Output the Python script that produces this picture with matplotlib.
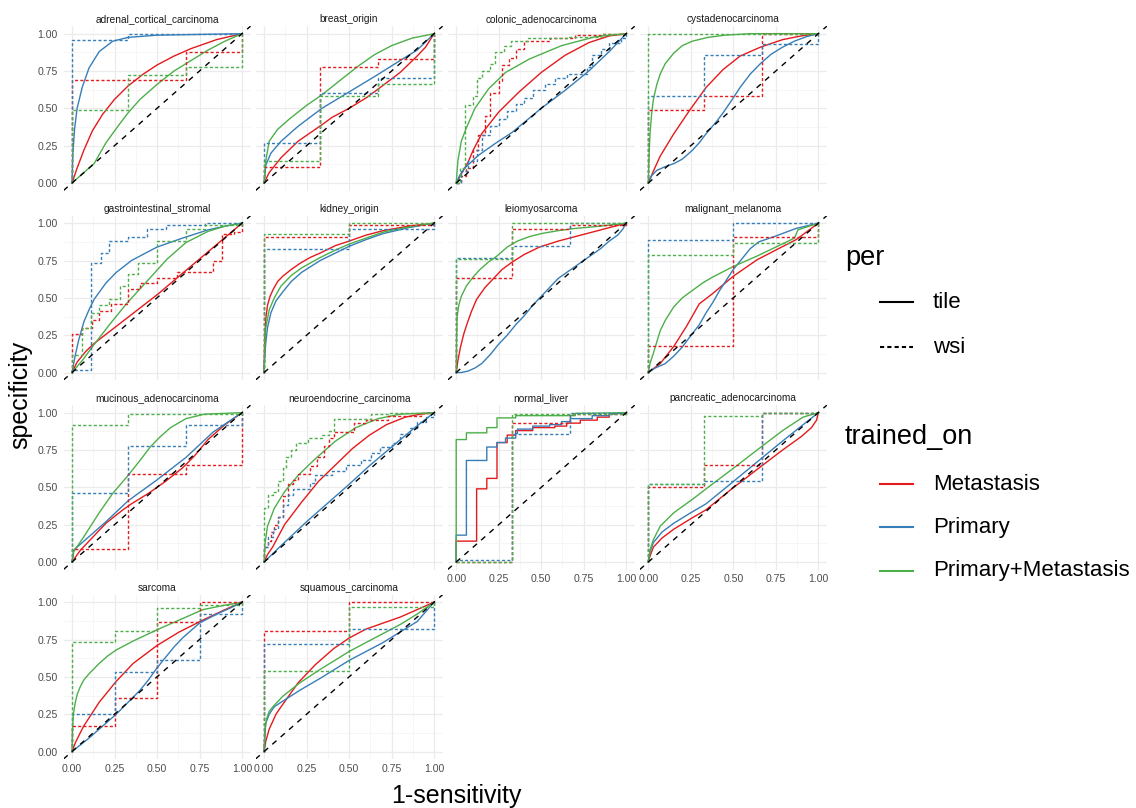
import matplotlib.pyplot as plt
from matplotlib.lines import Line2D

plt.rcParams['font.family'] = ['Liberation Sans', 'DejaVu Sans']

# ---- data -------------------------------------------------------------
panels = ['adrenal_cortical_carcinoma', 'breast_origin', 'colonic_adenocarcinoma',
          'cystadenocarcinoma', 'gastrointestinal_stromal', 'kidney_origin',
          'leiomyosarcoma', 'malignant_melanoma', 'mucinous_adenocarcinoma',
          'neuroendocrine_carcinoma', 'normal_liver', 'pancreatic_adenocarcinoma',
          'sarcoma', 'squamous_carcinoma']
trained_on = ['Metastasis', 'Primary', 'Primary+Metastasis']
per = ['tile', 'wsi']
colors = {'Metastasis': '#E41A1C', 'Primary': '#377EB8', 'Primary+Metastasis': '#4DAF4A'}
ticks = [0, 0.25, 0.5, 0.75, 1]
tick_labels = ['0.00', '0.25', '0.50', '0.75', '1.00']

# (1-sensitivity, specificity) points; keys are (per, trained_on)
adrenal_cortical_carcinoma = {
    ('tile', 'Metastasis'): [(0, 0), (0.03, 0.1), (0.07, 0.22), (0.12, 0.35), (0.18, 0.46), (0.25, 0.56), (0.33, 0.65), (0.42, 0.73), (0.5, 0.79), (0.6, 0.85), (0.7, 0.9), (0.85, 0.96), (1, 1)],
    ('tile', 'Primary'): [(0, 0), (0.005, 0.2), (0.015, 0.36), (0.03, 0.5), (0.06, 0.64), (0.1, 0.77), (0.16, 0.88), (0.24, 0.95), (0.33, 0.975), (0.5, 0.99), (1, 1)],
    ('tile', 'Primary+Metastasis'): [(0, 0), (0.13, 0.13), (0.2, 0.27), (0.27, 0.38), (0.33, 0.47), (0.4, 0.56), (0.5, 0.66), (0.6, 0.75), (0.7, 0.82), (0.8, 0.89), (0.9, 0.95), (1, 1)],
    ('wsi', 'Metastasis'): [(0, 0), (0, 0.69), (0.67, 0.69), (0.67, 0.88), (1, 0.88), (1, 1)],
    ('wsi', 'Primary'): [(0, 0), (0, 0.96), (0.33, 0.96), (0.33, 1), (1, 1)],
    ('wsi', 'Primary+Metastasis'): [(0, 0), (0, 0.49), (0.33, 0.49), (0.33, 0.72), (0.67, 0.72), (0.67, 0.78), (1, 0.78), (1, 1)],
}
breast_origin = {
    ('tile', 'Metastasis'): [(0, 0), (0.03, 0.07), (0.1, 0.17), (0.2, 0.28), (0.34, 0.39), (0.4, 0.44), (0.5, 0.5), (0.6, 0.57), (0.66, 0.62), (0.73, 0.68), (0.8, 0.74), (0.9, 0.85), (0.95, 0.91), (1, 1)],
    ('tile', 'Primary'): [(0, 0), (0.01, 0.12), (0.04, 0.2), (0.1, 0.28), (0.2, 0.38), (0.34, 0.5), (0.5, 0.61), (0.66, 0.72), (0.8, 0.82), (0.9, 0.89), (1, 1)],
    ('tile', 'Primary+Metastasis'): [(0, 0), (0.01, 0.15), (0.03, 0.28), (0.08, 0.36), (0.15, 0.43), (0.25, 0.52), (0.34, 0.59), (0.45, 0.69), (0.55, 0.78), (0.65, 0.86), (0.75, 0.92), (0.87, 0.97), (1, 1)],
    ('wsi', 'Metastasis'): [(0, 0), (0, 0.11), (0.33, 0.11), (0.33, 0.78), (0.67, 0.78), (0.67, 0.83), (1, 0.83), (1, 1)],
    ('wsi', 'Primary'): [(0, 0), (0, 0.27), (0.33, 0.27), (0.33, 0.6), (0.67, 0.6), (0.67, 0.7), (1, 0.7), (1, 1)],
    ('wsi', 'Primary+Metastasis'): [(0, 0), (0, 0.15), (0.33, 0.15), (0.33, 0.58), (0.67, 0.58), (0.67, 0.66), (1, 0.66), (1, 1)],
}
colonic_adenocarcinoma = {
    ('tile', 'Metastasis'): [(0, 0), (0.03, 0.06), (0.07, 0.14), (0.1, 0.22), (0.15, 0.33), (0.25, 0.475), (0.37, 0.61), (0.5, 0.74), (0.64, 0.855), (0.78, 0.94), (0.9, 0.985), (1, 1)],
    ('tile', 'Primary'): [(0, 0), (0.02, 0.05), (0.05, 0.1), (0.13, 0.185), (0.23, 0.265), (0.33, 0.34), (0.5, 0.5), (0.64, 0.62), (0.78, 0.75), (0.9, 0.88), (1, 1)],
    ('tile', 'Primary+Metastasis'): [(0, 0), (0.01, 0.15), (0.03, 0.28), (0.06, 0.37), (0.11, 0.5), (0.19, 0.63), (0.29, 0.74), (0.43, 0.83), (0.62, 0.92), (0.82, 0.98), (1, 1)],
    ('wsi', 'Metastasis'): [(0, 0), (0.03, 0), (0.03, 0.05), (0.06, 0.05), (0.06, 0.1), (0.1, 0.1), (0.1, 0.22), (0.13, 0.22), (0.13, 0.32), (0.17, 0.32), (0.17, 0.45), (0.2, 0.45), (0.2, 0.6), (0.25, 0.6), (0.25, 0.68), (0.27, 0.68), (0.27, 0.79), (0.31, 0.79), (0.31, 0.84), (0.35, 0.84), (0.35, 0.9), (0.4, 0.9), (0.4, 0.95), (0.55, 0.95), (0.55, 0.97), (0.7, 0.97), (0.7, 0.99), (0.85, 0.99), (0.85, 1), (1, 1)],
    ('wsi', 'Primary'): [(0, 0), (0.03, 0), (0.03, 0.08), (0.07, 0.08), (0.07, 0.15), (0.12, 0.15), (0.12, 0.22), (0.15, 0.22), (0.15, 0.32), (0.2, 0.32), (0.2, 0.38), (0.25, 0.38), (0.25, 0.43), (0.3, 0.43), (0.3, 0.48), (0.35, 0.48), (0.35, 0.53), (0.4, 0.53), (0.4, 0.57), (0.45, 0.57), (0.45, 0.62), (0.52, 0.62), (0.52, 0.66), (0.58, 0.66), (0.58, 0.7), (0.65, 0.7), (0.65, 0.73), (0.77, 0.73), (0.77, 0.78), (0.8, 0.78), (0.8, 0.86), (0.85, 0.86), (0.85, 0.9), (0.9, 0.9), (0.9, 0.94), (0.97, 0.94), (0.97, 0.97), (1, 0.97), (1, 1)],
    ('wsi', 'Primary+Metastasis'): [(0, 0), (0.02, 0), (0.02, 0.1), (0.05, 0.1), (0.05, 0.52), (0.1, 0.52), (0.1, 0.58), (0.12, 0.58), (0.12, 0.7), (0.15, 0.7), (0.15, 0.75), (0.2, 0.75), (0.2, 0.8), (0.23, 0.8), (0.23, 0.88), (0.28, 0.88), (0.28, 0.92), (0.32, 0.92), (0.32, 0.95), (0.42, 0.95), (0.42, 0.97), (0.65, 0.97), (0.65, 0.98), (0.85, 0.98), (0.85, 1), (1, 1)],
}
cystadenocarcinoma = {
    ('tile', 'Metastasis'): [(0, 0), (0.03, 0.08), (0.07, 0.18), (0.15, 0.33), (0.245, 0.49), (0.34, 0.64), (0.44, 0.76), (0.54, 0.85), (0.66, 0.91), (0.79, 0.96), (0.9, 0.985), (1, 1)],
    ('tile', 'Primary'): [(0, 0), (0.02, 0.05), (0.05, 0.085), (0.1, 0.11), (0.15, 0.13), (0.2, 0.16), (0.26, 0.22), (0.3, 0.27), (0.34, 0.33), (0.4, 0.41), (0.44, 0.47), (0.5, 0.57), (0.54, 0.64), (0.6, 0.73), (0.66, 0.8), (0.72, 0.86), (0.79, 0.91), (0.86, 0.95), (0.93, 0.98), (1, 1)],
    ('tile', 'Primary+Metastasis'): [(0, 0), (0.005, 0.2), (0.01, 0.33), (0.02, 0.47), (0.03, 0.56), (0.05, 0.66), (0.07, 0.73), (0.1, 0.8), (0.15, 0.87), (0.2, 0.92), (0.26, 0.95), (0.35, 0.975), (0.45, 0.99), (0.6, 1), (1, 1)],
    ('wsi', 'Metastasis'): [(0, 0), (0, 0.49), (0.33, 0.49), (0.33, 0.58), (0.67, 0.58), (0.67, 1), (1, 1)],
    ('wsi', 'Primary'): [(0, 0), (0, 0.58), (0.33, 0.58), (0.33, 0.86), (0.67, 0.86), (0.67, 0.93), (1, 0.93), (1, 1)],
    ('wsi', 'Primary+Metastasis'): [(0, 0), (0, 1), (1, 1)],
}
gastrointestinal_stromal = {
    ('tile', 'Metastasis'): [(0, 0), (0.03, 0.07), (0.08, 0.14), (0.125, 0.19), (0.25, 0.3), (0.5, 0.52), (0.75, 0.76), (1, 1)],
    ('tile', 'Primary'): [(0, 0), (0.02, 0.12), (0.04, 0.22), (0.07, 0.34), (0.1, 0.42), (0.13, 0.49), (0.2, 0.6), (0.26, 0.67), (0.35, 0.75), (0.5, 0.84), (0.65, 0.9), (0.8, 0.955), (0.9, 0.98), (1, 1)],
    ('tile', 'Primary+Metastasis'): [(0, 0), (0.06, 0.08), (0.125, 0.18), (0.22, 0.32), (0.32, 0.46), (0.44, 0.61), (0.56, 0.76), (0.67, 0.87), (0.8, 0.945), (0.9, 0.98), (1, 1)],
    ('wsi', 'Metastasis'): [(0, 0), (0, 0.26), (0.06, 0.26), (0.06, 0.3), (0.12, 0.3), (0.12, 0.35), (0.16, 0.35), (0.16, 0.41), (0.23, 0.41), (0.23, 0.46), (0.33, 0.46), (0.33, 0.56), (0.4, 0.56), (0.4, 0.6), (0.5, 0.6), (0.5, 0.63), (0.62, 0.63), (0.62, 0.67), (0.83, 0.67), (0.83, 0.745), (0.88, 0.745), (0.88, 0.93), (0.95, 0.93), (0.95, 0.94), (1, 0.94), (1, 1)],
    ('wsi', 'Primary'): [(0, 0), (0, 0.02), (0.11, 0.02), (0.11, 0.73), (0.17, 0.73), (0.17, 0.8), (0.22, 0.8), (0.22, 0.88), (0.33, 0.88), (0.33, 0.91), (0.44, 0.91), (0.44, 0.96), (0.55, 0.96), (0.55, 0.99), (0.78, 0.99), (0.78, 1), (1, 1)],
    ('wsi', 'Primary+Metastasis'): [(0, 0), (0, 0.12), (0.06, 0.12), (0.06, 0.3), (0.11, 0.3), (0.11, 0.4), (0.16, 0.4), (0.16, 0.45), (0.22, 0.45), (0.22, 0.49), (0.28, 0.49), (0.28, 0.58), (0.33, 0.58), (0.33, 0.66), (0.39, 0.66), (0.39, 0.73), (0.5, 0.73), (0.5, 0.88), (0.67, 0.88), (0.67, 0.96), (0.78, 0.96), (0.78, 0.99), (1, 0.99), (1, 1)],
}
kidney_origin = {
    ('tile', 'Metastasis'): [(0, 0), (0.003, 0.2), (0.01, 0.36), (0.02, 0.45), (0.035, 0.51), (0.055, 0.56), (0.08, 0.61), (0.11, 0.645), (0.16, 0.69), (0.21, 0.73), (0.27, 0.77), (0.33, 0.8), (0.42, 0.85), (0.5, 0.88), (0.6, 0.92), (0.7, 0.95), (0.85, 0.98), (1, 1)],
    ('tile', 'Primary'): [(0, 0), (0.003, 0.1), (0.01, 0.2), (0.02, 0.3), (0.04, 0.4), (0.07, 0.48), (0.11, 0.54), (0.16, 0.61), (0.22, 0.67), (0.33, 0.75), (0.42, 0.8), (0.5, 0.845), (0.6, 0.89), (0.7, 0.93), (0.85, 0.97), (1, 1)],
    ('tile', 'Primary+Metastasis'): [(0, 0), (0.005, 0.15), (0.01, 0.3), (0.03, 0.42), (0.06, 0.5), (0.1, 0.58), (0.16, 0.65), (0.22, 0.7), (0.33, 0.77), (0.42, 0.82), (0.5, 0.86), (0.6, 0.9), (0.7, 0.94), (0.85, 0.975), (1, 1)],
    ('wsi', 'Metastasis'): [(0, 0), (0, 0.91), (0.5, 0.91), (0.5, 0.99), (1, 0.99), (1, 1)],
    ('wsi', 'Primary'): [(0, 0), (0, 0.83), (0.5, 0.83), (0.5, 0.96), (1, 0.96), (1, 1)],
    ('wsi', 'Primary+Metastasis'): [(0, 0), (0, 0.93), (0.5, 0.93), (0.5, 1), (1, 1)],
}
leiomyosarcoma = {
    ('tile', 'Metastasis'): [(0, 0), (0.01, 0.08), (0.025, 0.17), (0.045, 0.26), (0.065, 0.33), (0.09, 0.41), (0.12, 0.49), (0.17, 0.57), (0.22, 0.63), (0.27, 0.69), (0.33, 0.74), (0.4, 0.79), (0.49, 0.84), (0.6, 0.88), (0.7, 0.91), (0.8, 0.94), (0.9, 0.97), (1, 1)],
    ('tile', 'Primary'): [(0, 0), (0.03, 0), (0.07, 0.01), (0.11, 0.03), (0.15, 0.06), (0.2, 0.12), (0.25, 0.19), (0.3, 0.25), (0.35, 0.32), (0.4, 0.38), (0.45, 0.45), (0.5, 0.51), (0.55, 0.57), (0.6, 0.63), (0.65, 0.67), (0.7, 0.71), (0.75, 0.75), (0.8, 0.79), (0.85, 0.83), (0.9, 0.88), (0.95, 0.92), (0.98, 0.96), (1, 1)],
    ('tile', 'Primary+Metastasis'): [(0, 0), (0.002, 0.2), (0.005, 0.37), (0.015, 0.45), (0.03, 0.51), (0.06, 0.58), (0.1, 0.64), (0.14, 0.69), (0.19, 0.74), (0.24, 0.78), (0.3, 0.84), (0.36, 0.88), (0.43, 0.91), (0.5, 0.93), (0.6, 0.95), (0.7, 0.965), (0.85, 0.98), (1, 1)],
    ('wsi', 'Metastasis'): [(0, 0), (0, 0.63), (0.33, 0.63), (0.33, 0.96), (0.67, 0.96), (0.67, 0.99), (1, 0.99), (1, 1)],
    ('wsi', 'Primary'): [(0, 0), (0, 0.77), (0.33, 0.77), (0.33, 0.85), (0.67, 0.85), (0.67, 1), (1, 1)],
    ('wsi', 'Primary+Metastasis'): [(0, 0), (0, 0.76), (0.33, 0.76), (0.33, 1), (1, 1)],
}
malignant_melanoma = {
    ('tile', 'Metastasis'): [(0, 0), (0.07, 0.06), (0.15, 0.175), (0.225, 0.31), (0.3, 0.46), (0.38, 0.53), (0.5, 0.645), (0.64, 0.755), (0.75, 0.82), (0.87, 0.89), (1, 1)],
    ('tile', 'Primary'): [(0, 0), (0.04, 0.03), (0.1, 0.06), (0.15, 0.11), (0.2, 0.17), (0.245, 0.24), (0.3, 0.32), (0.34, 0.4), (0.38, 0.47), (0.42, 0.55), (0.46, 0.62), (0.5, 0.69), (0.55, 0.76), (0.6, 0.83), (0.65, 0.875), (0.74, 0.91), (0.87, 0.965), (1, 1)],
    ('tile', 'Primary+Metastasis'): [(0, 0), (0.01, 0.06), (0.03, 0.13), (0.07, 0.28), (0.1, 0.35), (0.15, 0.44), (0.2, 0.5), (0.26, 0.55), (0.32, 0.6), (0.38, 0.64), (0.5, 0.71), (0.64, 0.78), (0.75, 0.84), (0.86, 0.9), (0.88, 0.955), (1, 1)],
    ('wsi', 'Metastasis'): [(0, 0), (0, 0.18), (0.5, 0.18), (0.5, 0.91), (1, 0.91), (1, 1)],
    ('wsi', 'Primary'): [(0, 0), (0, 0.89), (0.5, 0.89), (0.5, 1), (1, 1)],
    ('wsi', 'Primary+Metastasis'): [(0, 0), (0, 0.79), (0.5, 0.79), (0.5, 0.87), (1, 0.87), (1, 1)],
}
mucinous_adenocarcinoma = {
    ('tile', 'Metastasis'): [(0, 0), (0.05, 0.08), (0.1, 0.14), (0.2, 0.26), (0.3, 0.35), (0.35, 0.39), (0.45, 0.46), (0.55, 0.54), (0.65, 0.63), (0.72, 0.71), (0.8, 0.82), (0.9, 0.92), (1, 1)],
    ('tile', 'Primary'): [(0, 0), (0.01, 0.08), (0.1, 0.17), (0.2, 0.27), (0.33, 0.41), (0.5, 0.55), (0.67, 0.7), (0.83, 0.87), (1, 1)],
    ('tile', 'Primary+Metastasis'): [(0, 0), (0.01, 0.07), (0.07, 0.17), (0.16, 0.33), (0.24, 0.46), (0.33, 0.58), (0.4, 0.68), (0.46, 0.77), (0.52, 0.84), (0.58, 0.9), (0.67, 0.96), (0.78, 0.99), (1, 1)],
    ('wsi', 'Metastasis'): [(0, 0), (0, 0.09), (0.33, 0.09), (0.33, 0.59), (0.67, 0.59), (0.67, 0.65), (1, 0.65), (1, 1)],
    ('wsi', 'Primary'): [(0, 0), (0, 0.46), (0.33, 0.46), (0.33, 0.78), (0.67, 0.78), (0.67, 0.92), (1, 0.92), (1, 1)],
    ('wsi', 'Primary+Metastasis'): [(0, 0), (0, 0.92), (0.33, 0.92), (0.33, 0.99), (1, 0.99), (1, 1)],
}
neuroendocrine_carcinoma = {
    ('tile', 'Metastasis'): [(0, 0), (0.02, 0.05), (0.05, 0.1), (0.12, 0.25), (0.22, 0.4), (0.32, 0.54), (0.42, 0.65), (0.52, 0.76), (0.62, 0.85), (0.72, 0.92), (0.83, 0.97), (0.92, 0.99), (1, 1)],
    ('tile', 'Primary'): [(0, 0), (0.1, 0.11), (0.25, 0.27), (0.4, 0.42), (0.5, 0.52), (0.62, 0.645), (0.75, 0.77), (0.87, 0.885), (1, 1)],
    ('tile', 'Primary+Metastasis'): [(0, 0), (0.005, 0.12), (0.02, 0.24), (0.06, 0.36), (0.12, 0.47), (0.2, 0.58), (0.3, 0.69), (0.42, 0.81), (0.54, 0.9), (0.67, 0.96), (0.8, 0.99), (1, 1)],
    ('wsi', 'Metastasis'): [(0, 0), (0, 0.1), (0.02, 0.1), (0.02, 0.14), (0.04, 0.14), (0.04, 0.2), (0.06, 0.2), (0.06, 0.25), (0.08, 0.25), (0.08, 0.3), (0.11, 0.3), (0.11, 0.44), (0.14, 0.44), (0.14, 0.52), (0.17, 0.52), (0.17, 0.55), (0.2, 0.55), (0.2, 0.59), (0.27, 0.59), (0.27, 0.64), (0.31, 0.64), (0.31, 0.7), (0.35, 0.7), (0.35, 0.78), (0.38, 0.78), (0.38, 0.83), (0.41, 0.83), (0.41, 0.87), (0.53, 0.87), (0.53, 0.93), (0.6, 0.93), (0.6, 0.95), (0.73, 0.95), (0.73, 0.98), (0.92, 0.98), (0.92, 1), (1, 1)],
    ('wsi', 'Primary'): [(0, 0), (0, 0.1), (0.02, 0.1), (0.02, 0.17), (0.05, 0.17), (0.05, 0.22), (0.08, 0.22), (0.08, 0.3), (0.11, 0.3), (0.11, 0.38), (0.14, 0.38), (0.14, 0.45), (0.17, 0.45), (0.17, 0.49), (0.27, 0.49), (0.27, 0.53), (0.3, 0.53), (0.3, 0.58), (0.4, 0.58), (0.4, 0.61), (0.48, 0.61), (0.48, 0.65), (0.57, 0.65), (0.57, 0.68), (0.63, 0.68), (0.63, 0.73), (0.68, 0.73), (0.68, 0.77), (0.75, 0.77), (0.75, 0.8), (0.8, 0.8), (0.8, 0.86), (0.86, 0.86), (0.86, 0.9), (0.9, 0.9), (0.9, 0.94), (0.95, 0.94), (0.95, 0.97), (1, 0.97), (1, 1)],
    ('wsi', 'Primary+Metastasis'): [(0, 0), (0, 0.36), (0.02, 0.36), (0.02, 0.45), (0.05, 0.45), (0.05, 0.47), (0.08, 0.47), (0.08, 0.54), (0.11, 0.54), (0.11, 0.63), (0.13, 0.63), (0.13, 0.7), (0.16, 0.7), (0.16, 0.75), (0.19, 0.75), (0.19, 0.8), (0.26, 0.8), (0.26, 0.83), (0.34, 0.83), (0.34, 0.85), (0.38, 0.85), (0.38, 0.88), (0.41, 0.88), (0.41, 0.96), (0.63, 0.96), (0.63, 0.99), (0.73, 0.99), (0.73, 1), (1, 1)],
}
normal_liver = {
    ('tile', 'Metastasis'): [(0, 0), (0, 0.14), (0.12, 0.14), (0.12, 0.49), (0.18, 0.49), (0.18, 0.56), (0.24, 0.56), (0.24, 0.8), (0.3, 0.8), (0.3, 0.85), (0.35, 0.85), (0.35, 0.88), (0.45, 0.88), (0.45, 0.9), (0.58, 0.9), (0.58, 0.91), (0.65, 0.91), (0.65, 0.93), (0.73, 0.93), (0.73, 0.95), (0.83, 0.95), (0.83, 0.97), (0.9, 0.97), (0.9, 0.99), (1, 1)],
    ('tile', 'Primary'): [(0, 0), (0, 0.18), (0.06, 0.18), (0.06, 0.68), (0.18, 0.68), (0.18, 0.77), (0.24, 0.77), (0.24, 0.8), (0.29, 0.8), (0.29, 0.83), (0.35, 0.83), (0.35, 0.86), (0.36, 0.86), (0.36, 0.89), (0.45, 0.89), (0.45, 0.91), (0.55, 0.91), (0.55, 0.92), (0.62, 0.92), (0.62, 0.94), (0.67, 0.94), (0.67, 0.96), (0.8, 0.96), (0.8, 0.98), (0.9, 0.98), (0.9, 0.99), (1, 1)],
    ('tile', 'Primary+Metastasis'): [(0, 0), (0, 0.82), (0.06, 0.82), (0.06, 0.865), (0.18, 0.865), (0.18, 0.9), (0.24, 0.9), (0.24, 0.965), (0.35, 0.965), (0.35, 0.98), (0.7, 0.98), (0.7, 0.995), (1, 1)],
    ('wsi', 'Metastasis'): [(0, 0), (0.33, 0), (0.33, 0.93), (0.67, 0.93), (0.67, 0.99), (1, 0.99), (1, 1)],
    ('wsi', 'Primary'): [(0, 0), (0, 0.015), (0.33, 0.015), (0.33, 0.86), (0.67, 0.86), (0.67, 1), (1, 1)],
    ('wsi', 'Primary+Metastasis'): [(0, 0), (0.33, 0), (0.33, 0.99), (1, 0.99), (1, 1)],
}
pancreatic_adenocarcinoma = {
    ('tile', 'Metastasis'): [(0, 0), (0.01, 0.04), (0.03, 0.1), (0.08, 0.16), (0.15, 0.22), (0.25, 0.29), (0.34, 0.35), (0.48, 0.48), (0.64, 0.62), (0.79, 0.75), (0.9, 0.84), (0.96, 0.9), (0.99, 0.95), (1, 1)],
    ('tile', 'Primary'): [(0, 0), (0.01, 0.07), (0.03, 0.13), (0.08, 0.2), (0.15, 0.26), (0.25, 0.33), (0.34, 0.39), (0.48, 0.52), (0.64, 0.67), (0.79, 0.81), (0.9, 0.91), (1, 1)],
    ('tile', 'Primary+Metastasis'): [(0, 0), (0.01, 0.08), (0.03, 0.15), (0.07, 0.24), (0.15, 0.33), (0.26, 0.42), (0.34, 0.49), (0.48, 0.61), (0.64, 0.75), (0.79, 0.88), (0.91, 0.97), (1, 1)],
    ('wsi', 'Metastasis'): [(0, 0), (0, 0.5), (0.33, 0.5), (0.33, 0.65), (0.67, 0.65), (0.67, 1), (1, 1)],
    ('wsi', 'Primary'): [(0, 0), (0, 0.52), (0.33, 0.52), (0.33, 0.54), (0.67, 0.54), (0.67, 1), (1, 1)],
    ('wsi', 'Primary+Metastasis'): [(0, 0), (0, 0.52), (0.33, 0.52), (0.33, 0.98), (0.67, 0.98), (0.67, 1), (1, 1)],
}
sarcoma = {
    ('tile', 'Metastasis'): [(0, 0), (0.02, 0.06), (0.067, 0.167), (0.16, 0.33), (0.26, 0.47), (0.36, 0.59), (0.5, 0.71), (0.63, 0.8), (0.77, 0.88), (0.9, 0.95), (1, 1)],
    ('tile', 'Primary'): [(0, 0), (0.1, 0.09), (0.2, 0.19), (0.26, 0.25), (0.33, 0.33), (0.4, 0.41), (0.45, 0.48), (0.5, 0.56), (0.55, 0.63), (0.6, 0.7), (0.65, 0.76), (0.7, 0.81), (0.75, 0.86), (0.8, 0.89), (0.87, 0.93), (0.93, 0.96), (1, 1)],
    ('tile', 'Primary+Metastasis'): [(0, 0), (0.003, 0.15), (0.008, 0.25), (0.018, 0.32), (0.03, 0.38), (0.047, 0.43), (0.07, 0.48), (0.1, 0.52), (0.16, 0.59), (0.21, 0.64), (0.26, 0.68), (0.36, 0.74), (0.5, 0.815), (0.63, 0.88), (0.77, 0.95), (0.9, 0.98), (1, 1)],
    ('wsi', 'Metastasis'): [(0, 0), (0, 0.17), (0.25, 0.17), (0.25, 0.36), (0.5, 0.36), (0.5, 0.87), (0.75, 0.87), (0.75, 1), (1, 1)],
    ('wsi', 'Primary'): [(0, 0), (0, 0.25), (0.25, 0.25), (0.25, 0.53), (0.5, 0.53), (0.5, 0.61), (0.75, 0.61), (0.75, 0.92), (1, 0.92), (1, 1)],
    ('wsi', 'Primary+Metastasis'): [(0, 0), (0, 0.73), (0.25, 0.73), (0.25, 0.81), (0.5, 0.81), (0.5, 0.96), (0.75, 0.96), (0.75, 0.98), (1, 0.98), (1, 1)],
}
squamous_carcinoma = {
    ('tile', 'Metastasis'): [(0, 0), (0.01, 0.07), (0.03, 0.15), (0.07, 0.25), (0.1, 0.3), (0.15, 0.38), (0.2, 0.46), (0.25, 0.52), (0.3, 0.58), (0.35, 0.63), (0.41, 0.69), (0.45, 0.72), (0.5, 0.76), (0.55, 0.79), (0.6, 0.82), (0.7, 0.86), (0.8, 0.9), (0.9, 0.95), (1, 1)],
    ('tile', 'Primary'): [(0, 0), (0.005, 0.12), (0.01, 0.19), (0.03, 0.25), (0.06, 0.3), (0.1, 0.33), (0.21, 0.41), (0.33, 0.49), (0.5, 0.61), (0.6, 0.67), (0.7, 0.73), (0.8, 0.8), (0.9, 0.87), (1, 1)],
    ('tile', 'Primary+Metastasis'): [(0, 0), (0.005, 0.15), (0.015, 0.22), (0.03, 0.27), (0.06, 0.31), (0.11, 0.37), (0.21, 0.46), (0.33, 0.55), (0.43, 0.62), (0.5, 0.67), (0.6, 0.73), (0.7, 0.79), (0.8, 0.85), (0.9, 0.92), (1, 1)],
    ('wsi', 'Metastasis'): [(0, 0), (0, 0.81), (0.5, 0.81), (0.5, 1), (1, 1)],
    ('wsi', 'Primary'): [(0, 0), (0, 0.72), (0.5, 0.72), (0.5, 0.82), (1, 0.82), (1, 1)],
    ('wsi', 'Primary+Metastasis'): [(0, 0), (0, 0.54), (0.5, 0.54), (0.5, 0.97), (1, 0.97), (1, 1)],
}

curves = [adrenal_cortical_carcinoma, breast_origin, colonic_adenocarcinoma,
          cystadenocarcinoma, gastrointestinal_stromal, kidney_origin,
          leiomyosarcoma, malignant_melanoma, mucinous_adenocarcinoma,
          neuroendocrine_carcinoma, normal_liver, pancreatic_adenocarcinoma,
          sarcoma, squamous_carcinoma]

# ---- layout (pixels) --------------------------------------------------
W, H = 1136, 808
fig = plt.figure(figsize=(W / 100, H / 100), dpi=100)
fig.patch.set_facecolor('white')

panel_w, panel_h = 187, 164.3
col_step, row_step = 192.1, 189.5
left0, top0 = 63.5, 26.2

for i, (name, data) in enumerate(zip(panels, curves)):
    r, c = divmod(i, 4)
    left = left0 + c * col_step
    top = top0 + r * row_step
    ax = fig.add_axes([left / W, 1 - (top + panel_h) / H, panel_w / W, panel_h / H])
    ax.set_xlim(-0.05, 1.05)
    ax.set_ylim(-0.05, 1.05)
    for s in ax.spines.values():
        s.set_visible(False)
    ax.set_xticks(ticks)
    ax.set_yticks(ticks)
    ax.set_xticks([0.125, 0.375, 0.625, 0.875], minor=True)
    ax.set_yticks([0.125, 0.375, 0.625, 0.875], minor=True)
    ax.grid(which='major', color='#EBEBEB', lw=0.9)
    ax.grid(which='minor', color='#F3F3F3', lw=0.5)
    ax.set_axisbelow(True)
    ax.tick_params(which='both', length=0, labelsize=7.6, labelcolor='#4D4D4D')
    ax.tick_params(axis='y', pad=4)
    ax.tick_params(axis='x', pad=3.5)
    if c == 0:
        ax.set_yticklabels(tick_labels)
    else:
        ax.set_yticklabels([])
    if i >= 10:
        ax.set_xticklabels(tick_labels)
    else:
        ax.set_xticklabels([])
    ax.set_title(name, fontsize=7.3, color='#1A1A1A', pad=3)

    for p in per:
        for t in trained_on:
            xs, ys = zip(*data[(p, t)])
            if p == 'tile':
                ax.plot(xs, ys, color=colors[t], lw=1.0, solid_joinstyle='round')
            else:
                ax.plot(xs, ys, color=colors[t], lw=1.0, ls=(0, (2.2, 1.6)))
    ax.axline((0, 0), (1, 1), color='black', lw=1.0, ls=(0, (4, 4)))

# axis titles
fig.text(456 / W, 1 - 796 / H, '1-sensitivity', fontsize=18, ha='center', va='center')
fig.text(20 / W, 1 - 395 / H, 'specificity', fontsize=18, ha='center', va='center',
         rotation=90)

# legends
fig.text(845 / W, 1 - 258 / H, 'per', fontsize=19.5, ha='left', va='center')
for k, (lab, ls) in enumerate([('tile', '-'), ('wsi', (0, (2, 1.5)))]):
    y = 1 - (302 + 45 * k) / H
    fig.add_artist(Line2D([880 / W, 913 / W], [y, y], color='black', lw=1.5, ls=ls))
    fig.text(933 / W, y, lab, fontsize=16, ha='left', va='center')

fig.text(845 / W, 1 - 437 / H, 'trained_on', fontsize=19.5, ha='left', va='center')
for k, t in enumerate(trained_on):
    y = 1 - (484 + 43.3 * k) / H
    fig.add_artist(Line2D([880 / W, 913 / W], [y, y], color=colors[t], lw=1.5))
    fig.text(933 / W, y, t, fontsize=16, ha='left', va='center')

fig.savefig('out.png', dpi=100)
